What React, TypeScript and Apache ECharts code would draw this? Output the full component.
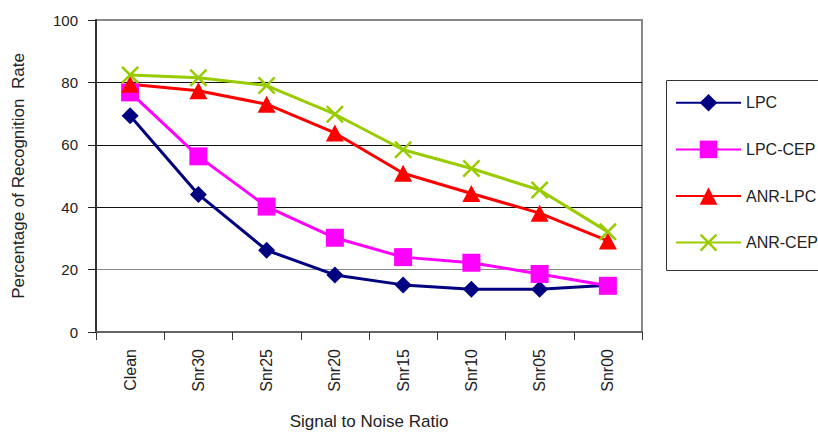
import React, { useEffect, useRef } from "react";
import * as echarts from "echarts";

const categories = ["Clean", "Snr30", "Snr25", "Snr20", "Snr15", "Snr10", "Snr05", "Snr00"];
const lpc = [69.3, 44.1, 26.2, 18.3, 15.1, 13.7, 13.7, 15.0];
const lpcCep = [76.8, 56.3, 40.2, 30.2, 24.0, 22.2, 18.6, 14.8];
const anrLpc = [79.4, 77.3, 73.0, 63.8, 50.9, 44.4, 38.1, 29.2];
const anrCep = [82.4, 81.5, 79.0, 69.8, 58.4, 52.4, 45.5, 32.1];
const yTicks = [0, 20, 40, 60, 80, 100];

const FONT = "'Liberation Sans', Arial, sans-serif";
const CROSS = "path://M0,1 L1,0 L5,4 L9,0 L10,1 L6,5 L10,9 L9,10 L5,6 L1,10 L0,9 L4,5 Z";

function lineSeries(name: string, data: number[], color: string, symbol: string, size: number | number[]) {
  return {
    name,
    type: "line",
    data,
    symbol,
    symbolSize: size,
    showSymbol: true,
    lineStyle: { color, width: 3 },
    itemStyle: { color, borderWidth: 0 },
    emphasis: { disabled: true },
  };
}

export default function App() {
  const ref = useRef<HTMLDivElement>(null);

  useEffect(() => {
    if (!ref.current) return;
    const chart = echarts.init(ref.current, undefined, { renderer: "svg" });
    chart.setOption({
      animation: false,
      backgroundColor: "#ffffff",
      textStyle: { fontFamily: FONT },
      grid: {
        left: 96,
        top: 20,
        width: 546,
        height: 315,
        show: true,
        borderColor: "#8a8a8a",
        borderWidth: 2,
        backgroundColor: "transparent",
      },
      legend: {
        orient: "vertical",
        left: 675,
        top: 94,
        padding: 0,
        itemWidth: 65,
        itemHeight: 22,
        itemGap: 29,
        textStyle: { fontSize: 16, color: "#222", fontFamily: FONT },
        data: ["LPC", "LPC-CEP", "ANR-LPC", "ANR-CEP"],
        selectedMode: false,
      },
      xAxis: {
        type: "category",
        data: categories,
        boundaryGap: true,
        axisLine: { show: true, lineStyle: { color: "#666", width: 2 } },
        axisTick: { show: true, length: 8, lineStyle: { color: "#333", width: 1 } },
        axisLabel: { rotate: 90, margin: 17, fontSize: 16, color: "#222", fontFamily: FONT },
        name: "Signal to Noise Ratio",
        nameLocation: "middle",
        nameGap: 81,
        nameTextStyle: { fontSize: 17, color: "#222", fontFamily: FONT },
      },
      yAxis: {
        type: "value",
        min: yTicks[0],
        max: yTicks[yTicks.length - 1],
        interval: 20,
        axisLine: { show: true, lineStyle: { color: "#333", width: 2 } },
        axisTick: { show: true, length: 8, lineStyle: { color: "#222", width: 1 } },
        axisLabel: { margin: 18, fontSize: 15, color: "#222", fontFamily: FONT },
        splitLine: {
          show: true,
          lineStyle: { color: ["#888", "#888", "#111", "#111", "#111", "#888"], width: 1 },
        },
        name: "Percentage of Recognition  Rate",
        nameLocation: "middle",
        nameGap: 69,
        nameTextStyle: { fontSize: 17, color: "#222", fontFamily: FONT },
      },
      graphic: [
        {
          type: "rect",
          shape: { x: 666.5, y: 80.5, width: 170, height: 190 },
          style: { fill: "none", stroke: "#333", lineWidth: 1 },
          z: 10,
        },
      ],
      series: [
        lineSeries("LPC", lpc, "#000080", "diamond", 17),
        lineSeries("LPC-CEP", lpcCep, "#ff00ff", "rect", 18),
        lineSeries("ANR-LPC", anrLpc, "#ff0000", "triangle", [18, 17]),
        lineSeries("ANR-CEP", anrCep, "#99cc00", CROSS, 18),
      ],
    });
    return () => chart.dispose();
  }, []);

  return (
    <div
      ref={ref}
      style={{ position: "absolute", left: 0, top: 0, width: 818, height: 435, background: "#fff" }}
    />
  );
}
